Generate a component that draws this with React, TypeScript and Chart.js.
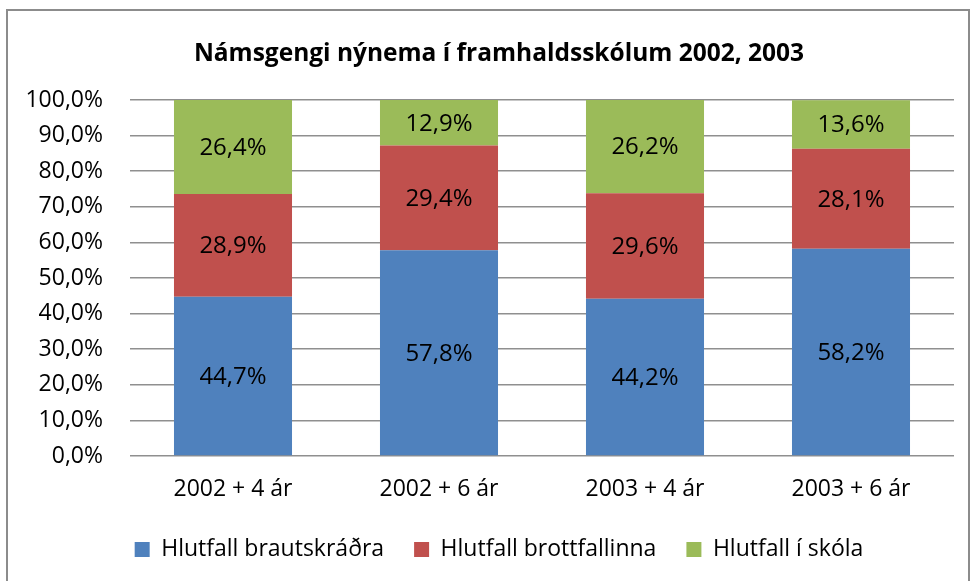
import React, { useEffect, useRef } from "react";
import { Chart, registerables } from "chart.js";

Chart.register(...registerables);

const categories = ["2002 + 4 ár", "2002 + 6 ár", "2003 + 4 ár", "2003 + 6 ár"];
const brautskradra = [44.7, 57.8, 44.2, 58.2];
const brottfallinna = [28.9, 29.4, 29.6, 28.1];
const iSkola = [26.4, 12.9, 26.2, 13.6];
const seriesNames = ["Hlutfall brautskráðra", "Hlutfall brottfallinna", "Hlutfall í skóla"];
const yTicks = [0, 10, 20, 30, 40, 50, 60, 70, 80, 90, 100];

const FONT = "'Open Sans', 'Noto Sans', sans-serif";

const fmt = (v: number) => v.toFixed(1).replace(".", ",") + "%";

const labelPlugin = {
  id: "segmentLabels",
  afterDatasetsDraw(chart: any) {
    const ctx = chart.ctx;
    ctx.save();
    ctx.font = `24px ${FONT}`;
    ctx.fillStyle = "#000";
    ctx.textAlign = "center";
    ctx.textBaseline = "middle";
    chart.data.datasets.forEach((ds: any, di: number) => {
      const meta = chart.getDatasetMeta(di);
      meta.data.forEach((el: any, i: number) => {
        const p = el.getProps(["x", "y", "base"], true);
        const top = Math.max(p.y, chart.chartArea.top);
        ctx.fillText(fmt(ds.data[i]), p.x, (top + p.base) / 2 + 1);
      });
    });
    ctx.restore();
  },
};

export default function App() {
  const ref = useRef<HTMLCanvasElement>(null);
  useEffect(() => {
    if (!ref.current) return;
    const chart = new Chart(ref.current, {
      type: "bar",
      data: {
        labels: categories,
        datasets: [
          { label: seriesNames[0], data: brautskradra, backgroundColor: "#4F81BD" },
          { label: seriesNames[1], data: brottfallinna, backgroundColor: "#C0504D" },
          { label: seriesNames[2], data: iSkola, backgroundColor: "#9BBB59" },
        ],
      },
      options: {
        animation: false,
        responsive: false,
        maintainAspectRatio: false,
        datasets: { bar: { barPercentage: 0.573, categoryPercentage: 1 } },
        layout: { padding: { left: 24, right: 0, top: 0, bottom: 10 } },
        plugins: {
          title: {
            display: true,
            text: "Námsgengi nýnema í framhaldsskólum 2002, 2003",
            color: "#000",
            font: { family: FONT, size: 24.5, weight: "bold" },
            padding: { top: 39.5, bottom: 31.1 },
          },
          legend: {
            position: "bottom",
            labels: {
              color: "#000",
              font: { family: FONT, size: 23 },
              boxWidth: 15,
              boxHeight: 15,
              padding: 30,
            },
          },
          tooltip: { enabled: false },
        },
        scales: {
          x: {
            stacked: true,
            afterFit: (s: any) => { s.height = 52; },
            grid: { display: false, drawTicks: false },
            border: { display: false },
            ticks: { color: "#000", font: { family: FONT, size: 23 }, padding: 20 },
          },
          y: {
            stacked: true,
            min: 0,
            max: 100,
            afterFit: (s: any) => { s.width = 106; },
            afterBuildTicks: (s: any) => { s.ticks = yTicks.map((v) => ({ value: v })); },
            grid: { color: "#8f8f8f", lineWidth: 1.5, drawTicks: false },
            border: { display: false },
            ticks: {
              color: "#000",
              font: { family: FONT, size: 23 },
              padding: 27,
              callback: (v: any) => fmt(Number(v)),
            },
          },
          yRight: {
            position: "right",
            display: true,
            afterFit: (s: any) => { s.width = 20; },
            grid: { display: false, drawTicks: false },
            border: { display: false },
            ticks: { display: false },
          },
        },
      },
      plugins: [labelPlugin],
    });
    return () => chart.destroy();
  }, []);
  return (
    <div style={{ position: "fixed", left: 0, top: 0, width: 974, height: 581, background: "#fff", overflow: "hidden" }}>
      <div style={{ position: "absolute", left: 6, top: 9, width: 964, height: 640, border: "2px solid #8c8c8c", boxSizing: "border-box" }} />
      <canvas ref={ref} width={974} height={581} style={{ position: "absolute", left: 0, top: 0, width: 974, height: 581 }} />
    </div>
  );
}
